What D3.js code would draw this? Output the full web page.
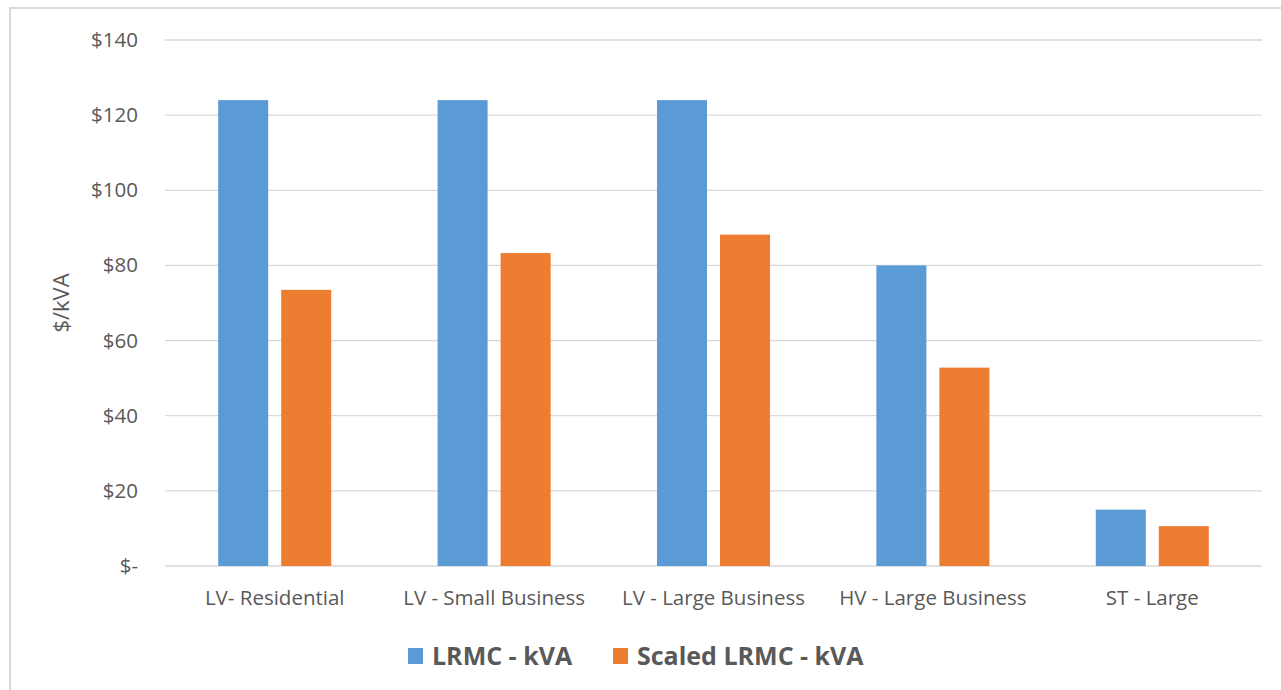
<!DOCTYPE html>
<html lang="en">
<head>
    <meta charset="UTF-8">
    <title>LRMC kVA</title>
    <script src="https://d3js.org/d3.v7.min.js"></script>
    <style>
        body { margin: 0; background: #fff; }
        text { font-family: "Open Sans", Lato, sans-serif; }
    </style>
</head>
<body>
    <script>
        var width = 1281, height = 690;
        // data
        var categories = ['LV- Residential', 'LV - Small Business', 'LV - Large Business', 'HV - Large Business', 'ST - Large'];
        var lrmc = [124, 124, 124, 80, 15];
        var scaledLrmc = [73.5, 83.3, 88.2, 52.8, 10.6];
        var seriesNames = ['LRMC - kVA', 'Scaled LRMC - kVA'];
        var colors = ['#5b9bd5', '#ed7d31'];
        var yTicks = [0, 20, 40, 60, 80, 100, 120, 140];

        var svg = d3.select('body').append('svg').attr('width', width).attr('height', height);

        // chart frame
        svg.append('rect')
            .attr('x', 10).attr('y', 8)
            .attr('width', width).attr('height', height)
            .attr('fill', 'none').attr('stroke', '#d9d9d9').attr('stroke-width', 2);

        var plotL = 165, plotR = 1262, plotT = 40, plotB = 566;

        var x = d3.scaleBand().domain(categories).range([plotL, plotR]);
        var y = d3.scaleLinear().domain([0, 140]).range([plotB, plotT]);

        // grid lines
        svg.append('g').selectAll('line').data(yTicks).join('line')
            .attr('x1', plotL).attr('x2', plotR)
            .attr('y1', function (d) { return y(d) }).attr('y2', function (d) { return y(d) })
            .attr('stroke', '#d9d9d9').attr('stroke-width', 1.3);

        // y axis
        var yAxis = svg.append('g')
            .attr('transform', 'translate(' + (plotL - 27) + ',0)')
            .call(d3.axisLeft(y).tickValues(yTicks).tickSize(0).tickPadding(0)
                .tickFormat(function (d) { return d === 0 ? '$-' : '$' + d }));
        yAxis.select('.domain').remove();
        yAxis.selectAll('text').attr('fill', '#595959').attr('font-size', 20.5);

        // x axis labels
        var xAxis = svg.append('g')
            .attr('transform', 'translate(0,' + plotB + ')')
            .call(d3.axisBottom(x).tickSize(0).tickPadding(24));
        xAxis.select('.domain').remove();
        xAxis.selectAll('text').attr('fill', '#595959').attr('font-size', 20.5);

        // y title
        svg.append('text')
            .attr('transform', 'translate(69,303) rotate(-90)')
            .attr('text-anchor', 'middle')
            .attr('fill', '#595959').attr('font-size', 22)
            .text('$/kVA');

        // bars
        var barW = x.bandwidth() * 0.228, gap = 13;
        var series = [lrmc, scaledLrmc];
        series.forEach(function (vals, s) {
            svg.append('g').selectAll('rect').data(vals).join('rect')
                .attr('x', function (d, i) {
                    var c = x(categories[i]) + x.bandwidth() / 2;
                    return s === 0 ? c - gap / 2 - barW : c + gap / 2;
                })
                .attr('y', function (d) { return y(d) })
                .attr('width', barW)
                .attr('height', function (d) { return plotB - y(d) })
                .attr('fill', colors[s]);
        });

        // legend
        var legend = svg.append('g');
        var legendX = [408, 613];
        seriesNames.forEach(function (n, i) {
            legend.append('rect')
                .attr('x', legendX[i]).attr('y', 648)
                .attr('width', 15).attr('height', 16)
                .attr('fill', colors[i]);
            legend.append('text')
                .attr('x', legendX[i] + 24).attr('y', 665)
                .attr('fill', '#595959').attr('font-size', 25).attr('font-weight', 'bold')
                .text(n);
        });
    </script>
</body>
</html>
